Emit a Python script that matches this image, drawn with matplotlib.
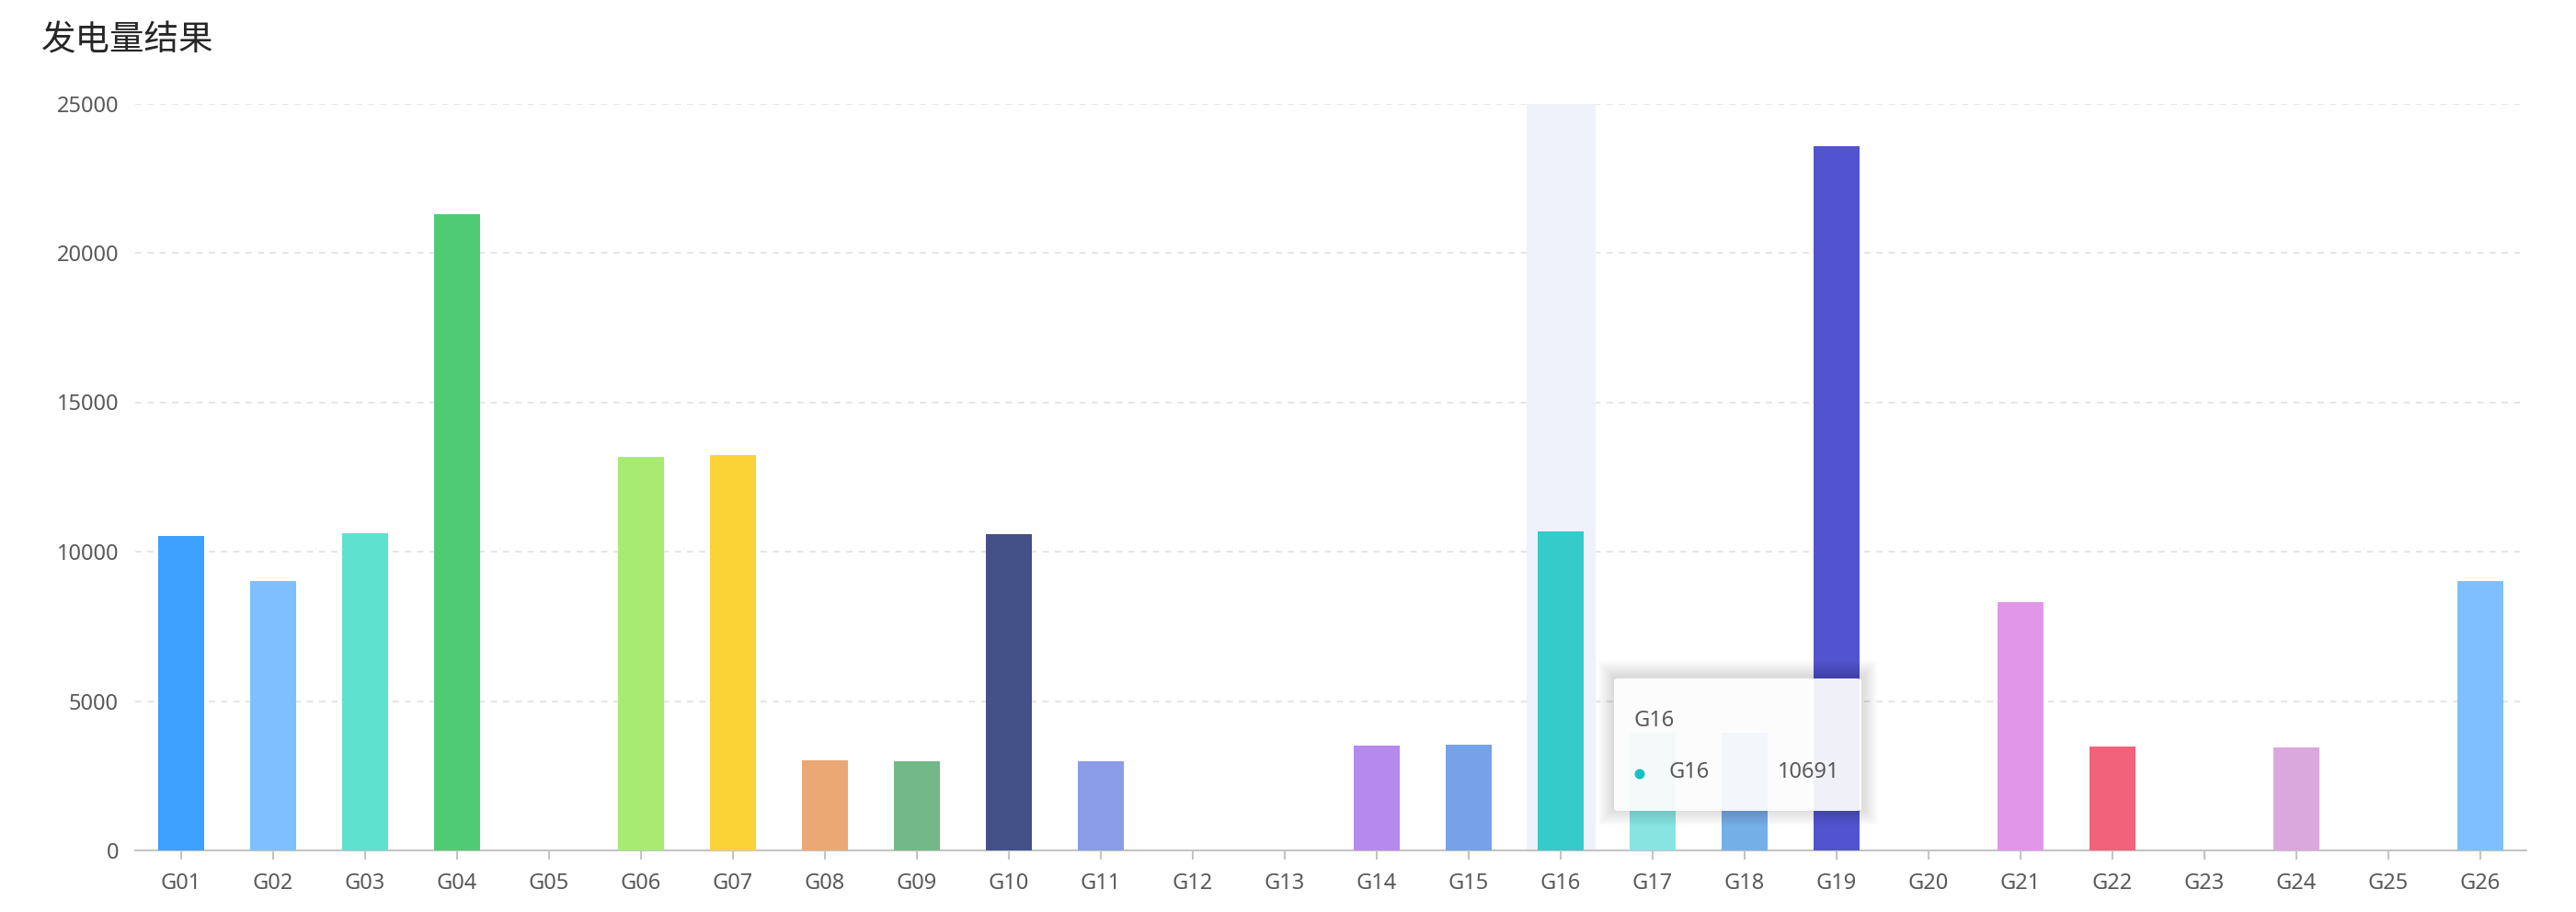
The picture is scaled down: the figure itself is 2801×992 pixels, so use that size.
import matplotlib
matplotlib.use("Agg")
import matplotlib.pyplot as plt
from matplotlib.patches import FancyBboxPatch, Ellipse

plt.rcParams["font.family"] = ["Noto Sans", "Noto Sans CJK SC", "DejaVu Sans"]

# data
units = [f"G{i:02d}" for i in range(1, 27)]
output = [10530, 9015, 10605, 21280, 0, 13180, 13230, 3005, 2985, 10580,
          2975, 0, 0, 3505, 3530, 10691, 3950, 3950, 23570, 0,
          8318, 3465, 0, 3445, 0, 9025]
colors = ["#3CA1FF", "#7EC0FF", "#5FE1D0", "#4FCB74", "#E0C7F5", "#A9EA73",
          "#FAD337", "#EBA774", "#73B987", "#435188", "#8A9CE8", "#F5C16B",
          "#5ED1B6", "#B58AEC", "#75A2E9", "#36CBCB", "#88E4E1", "#74AFE5",
          "#5254CF", "#9BD67A", "#E196EA", "#F2637B", "#F0A86E", "#DAA8DC",
          "#8FD3E8", "#7EC0FF"]
yticks = [0, 5000, 10000, 15000, 20000, 25000]
title = "发电量结果"
hover_idx = 15

W, H = 2801, 992
fig = plt.figure(figsize=(W / 100, H / 100), dpi=100)
ax = fig.add_axes([147 / W, 1 - 925 / H, 2600 / W, (925 - 112.5) / H])

x = list(range(len(units)))

# hover band behind the hovered bar
ax.bar(hover_idx, 25000, width=0.75, color="#EFF2FA", zorder=1)
ax.bar(x, output, width=0.5, color=colors, zorder=3)

ax.set_xlim(-0.5, len(units) - 0.5)
ax.set_ylim(0, 25000)
ax.set_xticks(x)
ax.set_xticklabels(units)
ax.set_yticks(yticks)
ax.set_yticklabels([str(v) for v in yticks])

for v in yticks[1:]:
    ax.axhline(v, color="#E6E6E6", lw=1.5, linestyle=(0, (3.2, 3.2)), zorder=0)

for s in ["top", "right", "left"]:
    ax.spines[s].set_visible(False)
ax.spines["bottom"].set_color("#C4C4C4")
ax.spines["bottom"].set_linewidth(1.5)
ax.tick_params(axis="x", length=7, width=1.5, color="#C4C4C4", pad=10,
               labelsize=17, labelcolor="#595959")
ax.tick_params(axis="y", length=0, pad=13, labelsize=17, labelcolor="#595959")

# title
fig.text(45 / W, 1 - 44 / H, title, fontsize=27, color="#262626",
         ha="left", va="center", family=["Noto Sans CJK SC", "DejaVu Sans"])

# tooltip (figure pixel coordinates)
tx0, ty0, tx1, ty1 = 1755, 738, 2024, 882
for k in range(18, 0, -1):
    fig.add_artist(FancyBboxPatch(
        ((tx0 - k) / W, 1 - (ty1 + k - 2) / H), (tx1 - tx0 + 2 * k) / W,
        (ty1 - ty0 + 2 * k) / H, boxstyle="round,pad=0,rounding_size=0.002",
        transform=fig.transFigure, facecolor="#000000", edgecolor="none",
        alpha=0.007, zorder=10))
fig.add_artist(FancyBboxPatch(
    (tx0 / W, 1 - ty1 / H), (tx1 - tx0) / W, (ty1 - ty0) / H,
    boxstyle="round,pad=0,rounding_size=0.002", transform=fig.transFigure,
    facecolor="white", edgecolor="none", alpha=0.93, zorder=11))
fig.text(1777 / W, 1 - 784 / H, units[hover_idx], fontsize=17, color="#595959",
         ha="left", va="center", zorder=12)
fig.add_artist(Ellipse((1783 / W, 1 - 842 / H), 11 / W, 11 / H,
                       transform=fig.transFigure, facecolor="#13C2C2",
                       edgecolor="none", zorder=12))
fig.text(1814 / W, 1 - 840 / H, units[hover_idx], fontsize=17, color="#595959",
         ha="left", va="center", zorder=12)
fig.text(2000 / W, 1 - 840 / H, str(output[hover_idx]), fontsize=17,
         color="#595959", ha="right", va="center", zorder=12)

fig.savefig("out.png", dpi=100)
